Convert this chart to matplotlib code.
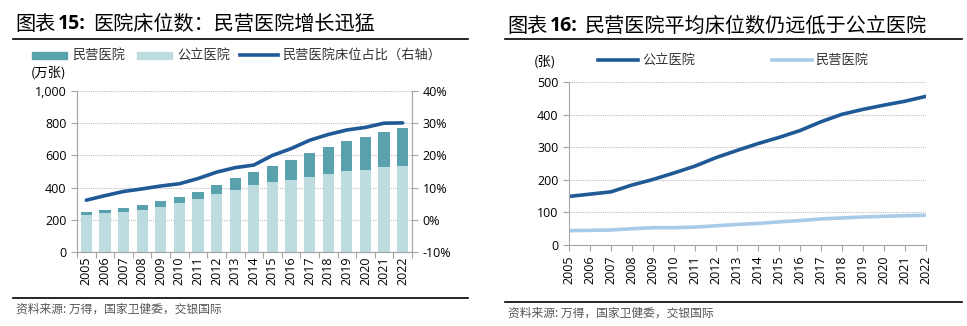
import matplotlib.pyplot as plt
import numpy as np
from matplotlib.lines import Line2D
from matplotlib.patches import Rectangle
from matplotlib.ticker import FuncFormatter

plt.rcParams['font.family'] = ['Open Sans', 'Noto Sans CJK SC', 'DejaVu Sans']
CJK = ['Noto Sans CJK SC', 'DejaVu Sans']

years = [str(y) for y in range(2005, 2023)]

# hospital beds, 10k
public_beds = [232, 241, 247, 263, 280, 303, 328, 359, 388, 415,
               434, 450, 467, 483, 502, 512, 525, 537]
private_beds = [15, 18, 27, 27, 35, 39, 43, 58, 73, 85,
                101, 121, 149, 171, 187, 202, 218, 231]
private_share = [6.1, 7.5, 8.8, 9.6, 10.5, 11.2, 12.8, 14.8, 16.2, 17.0,
                 20.0, 22.1, 24.7, 26.5, 27.9, 28.7, 30.0, 30.1]

# average beds per hospital
avg_public = [149, 156, 163, 184, 201, 221, 242, 268, 290, 311,
              330, 351, 378, 401, 416, 429, 441, 456]
avg_private = [44, 45, 46, 50, 53, 53, 55, 59, 63, 66,
               71, 75, 80, 83, 86, 88, 90, 91]

TEAL = '#59A1AC'
LIGHT_TEAL = '#BCDCE0'
NAVY = '#1F5A96'
LIGHT_BLUE = '#A9CBEA'
GRID = '#BFBFBF'
SPINE = '#A6A6A6'

W, H = 967, 326
fig = plt.figure(figsize=(W / 100, H / 100), dpi=100)


def px(x, y):
    return x / W, 1 - y / H


def rect(l, t, r, b):
    return [l / W, 1 - b / H, (r - l) / W, (b - t) / H]


def style_axes(ax):
    for s in ax.spines.values():
        s.set_color(SPINE)
        s.set_linewidth(0.8)
    ax.spines['top'].set_visible(False)
    ax.tick_params(colors=SPINE, labelcolor='black', labelsize=9, length=4, width=0.8)
    ax.yaxis.grid(True, color=GRID, linestyle=(0, (1, 1)), linewidth=0.8)
    ax.set_axisbelow(True)


def label(x, y, s, size=9.5, **kw):
    fig.text(*px(x, y), s, family=CJK, fontsize=size, fontweight='light',
             va='center', **kw)


def header(x0, x1, title_y, num, title, line_top, line_bottom, src_y):
    label(x0 + 2, title_y, '图表', size=14.5)
    fig.text(*px(x0 + 45, title_y), num, fontsize=14, fontweight='bold', va='center')
    label(x0 + 80, title_y, title, size=14.5)
    for y in (line_top, line_bottom):
        fig.add_artist(Line2D([x0 / W, x1 / W], [1 - y / H, 1 - y / H], color='black', lw=1.2))
    label(x0 + 3, src_y, '资料来源: 万得，国家卫健委，交银国际', size=8.5, color='#555555')


# left panel: beds stacked bars + private share line
header(13, 468, 24, '15:', '医院床位数：民营医院增长迅猛', 39, 298, 309)

x = np.arange(len(years))
ax1 = fig.add_axes(rect(77, 91, 412, 252))
style_axes(ax1)
ax1.bar(x, public_beds, width=0.6, color=LIGHT_TEAL)
ax1.bar(x, private_beds, width=0.6, bottom=public_beds, color=TEAL)
ax1.set_xlim(-0.5, len(years) - 0.5)
ax1.set_ylim(0, 1000)
ax1.set_yticks(range(0, 1001, 200))
ax1.yaxis.set_major_formatter(FuncFormatter(lambda v, p: f'{v:,.0f}'))
ax1.set_xticks(x)
ax1.set_xticklabels(years, rotation=90)
ax1.set_xticks(np.arange(-0.5, len(years), 1), minor=True)
ax1.tick_params(axis='x', which='major', length=0)
ax1.tick_params(axis='x', which='minor', length=4, color=SPINE, width=0.8)

ax1b = ax1.twinx()
ax1b.plot(x, private_share, color=NAVY, lw=2.6, solid_capstyle='round')
ax1b.set_ylim(-10, 40)
ax1b.set_yticks(range(-10, 41, 10))
ax1b.yaxis.set_major_formatter(FuncFormatter(lambda v, p: f'{v:.0f}%'))
for s in ax1b.spines.values():
    s.set_color(SPINE)
    s.set_linewidth(0.8)
ax1b.spines['top'].set_visible(False)
ax1b.tick_params(colors=SPINE, labelcolor='black', labelsize=9, length=4, width=0.8)

# left legend
fig.add_artist(Rectangle(px(32, 59), 35 / W, 7 / H, color=TEAL))
label(72, 55, '民营医院', color='#333333')
fig.add_artist(Rectangle(px(137, 59), 35 / W, 7 / H, color=LIGHT_TEAL))
label(177, 55, '公立医院', color='#333333')
fig.add_artist(Line2D([240 / W, 278 / W], [1 - 55 / H] * 2, color=NAVY, lw=2.6))
label(282, 55, '民营医院床位占比（右轴）', color='#333333')
label(31, 73, '(万张)')

# right panel: average beds per hospital
header(505, 962, 26, '16:', '民营医院平均床位数仍远低于公立医院', 39, 302, 313)

ax2 = fig.add_axes(rect(569, 82, 926, 245))
style_axes(ax2)
ax2.spines['right'].set_visible(False)
ax2.plot(x, avg_public, color=NAVY, lw=2.6)
ax2.plot(x, avg_private, color=LIGHT_BLUE, lw=2.6)
ax2.set_xlim(0, len(years) - 1)
ax2.set_ylim(0, 500)
ax2.set_yticks(range(0, 501, 100))
ax2.set_xticks(x)
ax2.set_xticklabels(years, rotation=90)

label(534, 62, '(张)')
fig.add_artist(Line2D([598 / W, 638 / W], [1 - 60 / H] * 2, color=NAVY, lw=2.6))
label(642, 60, '公立医院', color='#333333')
fig.add_artist(Line2D([772 / W, 812 / W], [1 - 60 / H] * 2, color=LIGHT_BLUE, lw=2.6))
label(815, 60, '民营医院', color='#333333')

fig.savefig('out.png', dpi=100)
